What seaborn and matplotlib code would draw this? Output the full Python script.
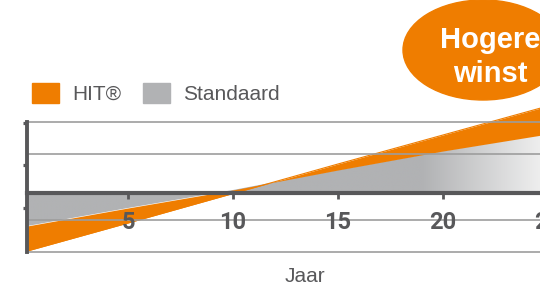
import matplotlib
matplotlib.use('Agg')
import matplotlib.pyplot as plt
import numpy as np
import seaborn as sns
from matplotlib.patches import Patch, Ellipse
from matplotlib.colors import LinearSegmentedColormap

# data (x = jaar, y = arbitrary units, 0 = break-even line)
years = [0.2, 5, 10, 15, 20, 25]
hit = [-5.8, -3.0, -0.05, 2.9, 5.8, 8.7]
standaard = [-3.3, -1.5, 0.3, 2.3, 4.2, 5.9]
series_names = ['HIT®', 'Standaard']
xticks = [5, 10, 15, 20, 25]
grid_levels = [7.1, 3.9, -2.7, -5.9]
ytick_levels = [7.0, 2.8, -1.5]

orange = '#ef7d00'
grey = '#b1b2b4'
dark = '#58585a'
gridc = '#9d9d9d'

sns.set_style('white')
plt.rcParams['font.family'] = ['Liberation Sans', 'DejaVu Sans']

fig = plt.figure(figsize=(5.4, 2.9), dpi=100)
ax = fig.add_axes([27 / 540, 1 - 252 / 290, 531.5 / 540, 130 / 290])
ax.set_axisbelow(False)
ymin, ymax = -5.9, 7.1

# grey area (standard) with fade to white on the right
grey_poly = ax.fill_between(years, 0, standaard, color='none', lw=0)
xs = np.linspace(0, 26, 600)
ramp = np.clip((xs - 19.0) / 5.8, 0, 1)[None, :]
fade = LinearSegmentedColormap.from_list('fade', [grey, '#f0f0f0'])
im = ax.imshow(ramp, extent=[0, 26, ymin, ymax], aspect='auto', cmap=fade,
               vmin=0, vmax=1, origin='lower', interpolation='bilinear', zorder=1)
im.set_clip_path(grey_poly.get_paths()[0], ax.transData)

# orange band between HIT and standard (runs above the top gridline)
ax.fill_between(years, hit, standaard, color=orange, lw=0, zorder=2, clip_on=False)
sns.lineplot(x=years, y=hit, color=orange, lw=0.8, ax=ax, zorder=2.1, clip_on=False)

for g in grid_levels:
    ax.axhline(g, color=gridc, lw=1.2, zorder=3, clip_on=False)

ax.set_xlim(0.19, 25.5)
ax.set_ylim(ymin, ymax)

for s in ['top', 'right']:
    ax.spines[s].set_visible(False)
ax.spines['bottom'].set_position(('data', 0))
ax.spines['bottom'].set_linewidth(3)
ax.spines['bottom'].set_color(dark)
ax.spines['bottom'].set_zorder(4)
ax.spines['left'].set_linewidth(2.8)
ax.spines['left'].set_color(dark)
ax.spines['left'].set_zorder(4)
ax.xaxis.set_zorder(4.5)
ax.yaxis.set_zorder(4.5)

ax.set_xticks(xticks, labels=[str(v) for v in xticks],
              fontfamily=['Liberation Sans Narrow', 'Roboto'], fontweight='bold')
ax.set_yticks(ytick_levels)
ax.tick_params(axis='x', bottom=True, length=4, width=2, color=dark, pad=9,
               labelsize=17, labelcolor=dark)
ax.tick_params(axis='y', left=True, length=3, width=2.3, color=dark, labelleft=False)

ax.set_xlabel('Jaar', fontsize=15, color=dark)
ax.xaxis.set_label_coords((305 - 27) / 531.5, -(277 - 252) / 130)
ax.xaxis.label.set_va('center')

handles = [Patch(color=orange, label=series_names[0]),
           Patch(color=grey, label=series_names[1])]
ax.legend(handles=handles, ncol=2, loc='lower left',
          bbox_to_anchor=(32 / 540, 1 - 104 / 290), bbox_transform=fig.transFigure,
          frameon=False, fontsize=15, labelcolor=dark, handlelength=1.3,
          handleheight=1.1, handletextpad=0.65, columnspacing=1.0,
          borderpad=0, borderaxespad=0)

# callout bubble
fig.add_artist(Ellipse((4.83, 2.40), 1.60, 1.0, transform=fig.dpi_scale_trans,
                       color=orange, zorder=5))
fig.text(4.90, 2.42, 'Hogere', transform=fig.dpi_scale_trans, ha='center',
         va='baseline', color='white', fontsize=21, fontweight='bold', zorder=6)
fig.text(4.90, 2.08, 'winst', transform=fig.dpi_scale_trans, ha='center',
         va='baseline', color='white', fontsize=21, fontweight='bold', zorder=6)

fig.savefig('out.png', dpi=100)
